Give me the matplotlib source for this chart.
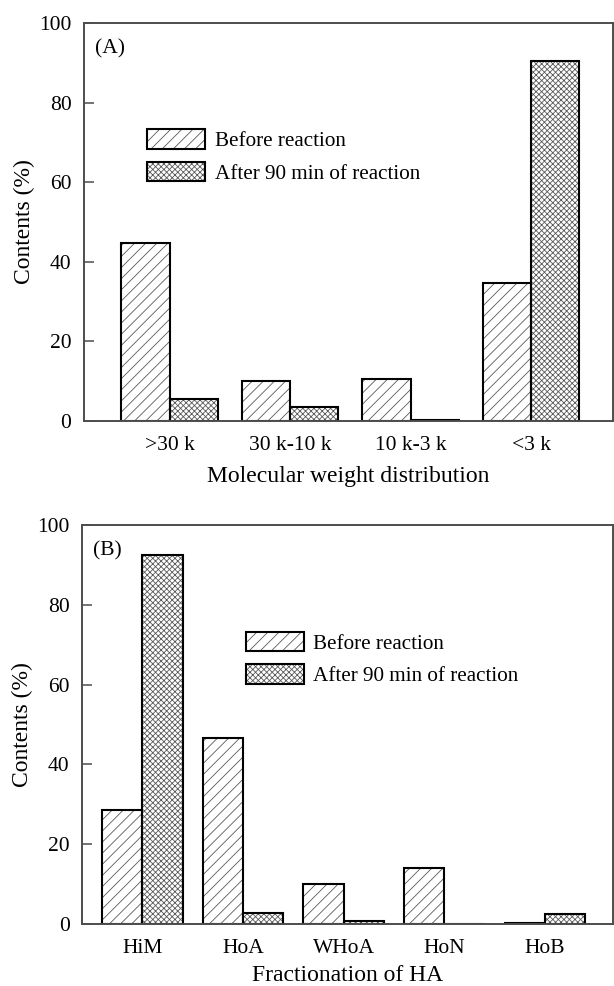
import matplotlib
matplotlib.use("Agg")
import matplotlib.pyplot as plt
import numpy as np
from matplotlib.legend_handler import HandlerTuple

plt.rcParams['font.family'] = ['Liberation Serif', 'DejaVu Serif']
plt.rcParams['hatch.linewidth'] = 0.6

# Panel A: molecular weight distribution
mw_categories = ['>30 k', '30 k-10 k', '10 k-3 k', '<3 k']
mw_before = [44.6, 10.0, 10.4, 34.7]
mw_after = [5.4, 3.5, 0.3, 90.4]

# Panel B: fractionation of HA
frac_categories = ['HiM', 'HoA', 'WHoA', 'HoN', 'HoB']
frac_before = [28.5, 46.6, 9.9, 14.1, 0.3]
frac_after = [92.5, 2.7, 0.7, 0.0, 2.5]

series_labels = ['Before reaction', 'After 90 min of reaction']
y_ticks = [0, 20, 40, 60, 80, 100]

HATCHES = ['///', 'xxxxxx']
HATCH_COLOR = '0.35'
SPINE_COLOR = '0.3'

fig = plt.figure(figsize=(6.14, 9.86), dpi=100)
ax_a = fig.add_axes([0.1368, 0.5733, 0.8617, 0.4034])
ax_b = fig.add_axes([0.1336, 0.0629, 0.8650, 0.4046])


def hatched_bars(ax, x, heights, hatch):
    # hatch layer (thin gray lines) plus a crisp black outline on top
    ax.bar(x, heights, width=0.4, align='edge', color='white', hatch=hatch,
           edgecolor=HATCH_COLOR, linewidth=0)
    ax.bar(x, heights, width=0.4, align='edge', fill=False,
           edgecolor='black', linewidth=1.5)
    h1 = plt.Rectangle((0, 0), 1, 1, facecolor='white', hatch=hatch,
                       edgecolor=HATCH_COLOR, linewidth=0)
    h2 = plt.Rectangle((0, 0), 1, 1, fill=False, edgecolor='black', linewidth=1.5)
    return (h1, h2)


def draw_panel(ax, cats, before, after, xlim, tag, xlabel, leg_anchor, xpad):
    x = np.arange(len(cats))
    hb = hatched_bars(ax, x - 0.4, before, HATCHES[0])
    ha = hatched_bars(ax, x, after, HATCHES[1])
    ax.set_xlim(*xlim)
    ax.set_ylim(0, 100)
    ax.set_yticks(y_ticks)
    ax.set_xticks(x)
    ax.set_xticklabels(cats)
    ax.tick_params(axis='y', direction='in', length=7, width=1.1,
                   color=SPINE_COLOR, labelsize=15.5, pad=9)
    ax.tick_params(axis='x', length=0, labelsize=15.5, pad=11)
    for s in ax.spines.values():
        s.set_color(SPINE_COLOR)
        s.set_linewidth(1.4)
    ax.set_ylabel('Contents (%)', fontsize=17, labelpad=3)
    ax.set_xlabel(xlabel, fontsize=17, labelpad=xpad)
    ax.text(0.02, 0.935, tag, transform=ax.transAxes, fontsize=15.5,
            ha='left', va='center')
    ax.legend([hb, ha], series_labels,
              handler_map={tuple: HandlerTuple(ndivide=1, pad=0)},
              loc='upper left', bbox_to_anchor=leg_anchor, frameon=False,
              fontsize=15.2, borderpad=0, borderaxespad=0,
              handlelength=2.75, handleheight=1.05, labelspacing=0.5,
              handletextpad=0.45)


draw_panel(ax_a, mw_categories, mw_before, mw_after, (-0.71, 3.68), '(A)',
           'Molecular weight distribution', (0.119, 0.733), 8)
draw_panel(ax_b, frac_categories, frac_before, frac_after, (-0.60, 4.68), '(B)',
           'Fractionation of HA', (0.308, 0.733), 5)

fig.savefig('out.png', dpi=100)
